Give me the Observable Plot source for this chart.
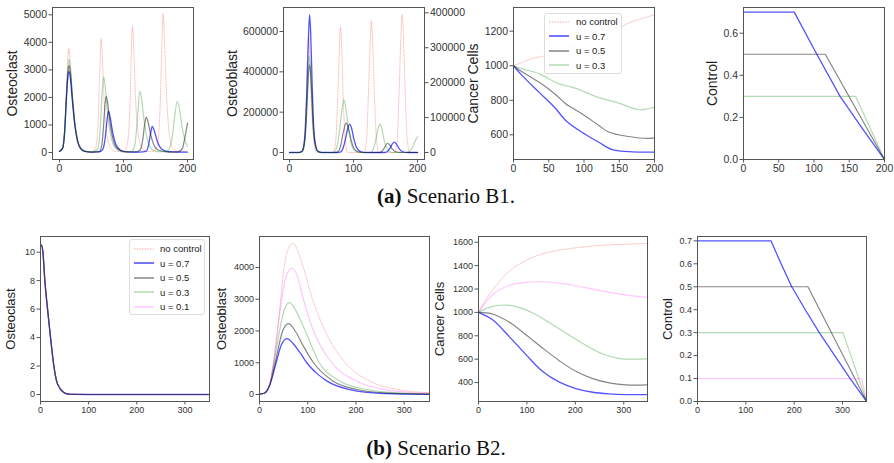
<!DOCTYPE html>
<html><head><meta charset="utf-8">
<script src="https://cdn.jsdelivr.net/npm/d3@7"></script>
<script src="https://cdn.jsdelivr.net/npm/@observablehq/plot@0.6"></script>
<style>
body{margin:0;background:#fff}
#root{position:relative;width:894px;height:463px;overflow:hidden;background:#fff;font-family:"Liberation Sans",Arial,sans-serif}
.legend{position:absolute;border:1px solid #ddd;border-radius:3px;background:rgba(255,255,255,0.85);box-sizing:border-box;color:#222}
.legend .row{position:absolute;white-space:nowrap}
.cap{position:absolute;font-family:"Liberation Serif",serif;font-size:21px;line-height:20px;color:#111;white-space:nowrap;transform:translateX(-50%)}
</style></head><body><div id="root"></div><script>
// ---------- series names ----------
const seriesA = ["no control", "u = 0.7", "u = 0.5", "u = 0.3"];
const seriesB = ["no control", "u = 0.7", "u = 0.5", "u = 0.3", "u = 0.1"];

// ---------- Scenario B1 : Osteoclast ----------
const oc1_none = [[0,40],[5,180],[8,850],[11,2400],[13,3400],[14.6,3770],[16,3500],[19,2400],[23,1100],[27,450],[32,130],[40,30],[50,20],[56,150],[60,900],[63,3000],[65,4130],[67,3400],[70,1800],[74,700],[79,200],[87,40],[100,25],[106,300],[110,1700],[112.5,3700],[114,4580],[116,3800],[119,1900],[123,700],[128,200],[136,40],[148,50],[154,400],[158,2200],[160.5,4300],[162,5040],[164,4100],[167,2200],[171,800],[176,200],[185,40],[200,30]];
const oc1_u07 = [[0,40],[5,150],[8,700],[11,2000],[13,2700],[15,2950],[17,2700],[20,1900],[24,1000],[28,450],[33,150],[40,40],[50,15],[62,20],[67,90],[71,450],[74,1100],[76.5,1500],[79,1300],[83,750],[88,300],[95,90],[105,25],[125,15],[135,40],[139,250],[142,650],[145,950],[148,800],[153,400],[160,120],[170,30],[185,15],[200,15]];
const oc1_u05 = [[0,40],[5,160],[8,750],[11,2100],[13,2850],[15,3160],[17,2900],[20,2050],[24,1050],[28,450],[33,150],[40,40],[50,15],[62,30],[66,250],[69,1000],[71,1700],[73,2040],[75,1850],[78,1250],[82,650],[87,250],[95,70],[105,20],[120,20],[126,90],[130,450],[133,1000],[135.5,1285],[138,1150],[142,700],[147,300],[155,80],[170,15],[185,20],[192,150],[196,550],[200,1070]];
const oc1_u03 = [[0,40],[5,170],[8,800],[11,2200],[13,3050],[15,3380],[17,3100],[20,2200],[24,1100],[28,480],[33,160],[40,40],[52,20],[60,150],[64,1000],[67,2300],[69,2760],[71,2500],[74,1700],[78,900],[83,350],[90,100],[100,25],[112,30],[118,300],[122,1300],[125.5,2230],[128,2000],[132,1200],[137,500],[143,150],[152,30],[168,40],[175,400],[180,1300],[184,1870],[187,1650],[191,1000],[196,450],[200,220]];

// ---------- Scenario B1 : Osteoblast (no control read on the right axis) ----------
const ob1_none_right = [[0,0],[18,0],[22,20000],[26,150000],[28.5,290000],[30,330000],[31.5,290000],[34,150000],[38,30000],[42,0],[68,0],[72,30000],[75,140000],[78,300000],[79.7,359000],[81.5,300000],[84,150000],[87,40000],[91,0],[116,0],[120,30000],[123,150000],[126,310000],[128,376000],[130,310000],[133,150000],[136,35000],[140,0],[164,0],[168,30000],[171,160000],[174,330000],[176,395000],[178,330000],[181,160000],[184,35000],[188,0],[200,0]];
const ob1_u07 = [[0,0],[15,0],[20,8000],[24,80000],[27,300000],[29.5,560000],[31.3,684000],[33,600000],[35,380000],[37,180000],[40,50000],[44,8000],[50,0],[75,0],[80,3000],[84,25000],[88,75000],[91,120000],[93.8,139000],[97,120000],[100,75000],[104,30000],[110,6000],[120,0],[148,0],[153,5000],[157,22000],[161,44000],[164,51000],[167,42000],[171,20000],[176,5000],[185,0],[200,0]];
const ob1_u05 = [[0,0],[15,0],[20,6000],[24,60000],[27,210000],[29.5,380000],[31,435000],[33,390000],[35,260000],[37,130000],[40,40000],[44,6000],[50,0],[72,0],[76,5000],[80,35000],[84,100000],[88.5,147000],[92,120000],[96,65000],[100,25000],[106,5000],[115,0],[140,0],[144,5000],[148,22000],[153,46000],[157,35000],[161,15000],[166,3000],[175,0],[200,0]];
const ob1_u03 = [[0,0],[15,0],[20,7000],[24,70000],[27,240000],[29.5,430000],[30.5,480000],[32.5,430000],[35,280000],[37,140000],[40,40000],[44,6000],[50,0],[68,0],[72,10000],[76,60000],[80,160000],[83,235000],[85,261000],[87,240000],[90,170000],[94,80000],[99,20000],[106,2000],[115,0],[126,0],[130,10000],[134,50000],[138,115000],[141,142000],[144,120000],[148,60000],[153,15000],[160,0],[182,0],[187,5000],[192,25000],[196,55000],[200,79000]];

// ---------- Scenario B1 : Cancer cells ----------
const cc1_none = [[0,1000],[10,1015],[25,1040],[50,1062],[65,1080],[80,1110],[100,1140],[115,1165],[130,1190],[150,1220],[165,1250],[180,1270],[200,1295]];
const cc1_u07 = [[0,1000],[12,944],[36,847],[60,751],[74,683],[97,615],[121,557],[140,514],[163,503],[200,500]];
const cc1_u05 = [[0,1000],[12,965],[36,905],[60,832],[74,780],[97,722],[121,654],[135,616],[163,590],[190,579],[200,583]];
const cc1_u03 = [[0,1000],[12,983],[36,954],[64,896],[83,876],[102,847],[121,815],[145,789],[178,745],[190,751],[200,760]];

// ---------- Scenario B1 : Control ----------
const ct1_u07 = [[0,0.7],[72,0.7],[104,0.5],[137,0.3],[168,0.15],[200,0]];
const ct1_u05 = [[0,0.5],[116,0.5],[200,0]];
const ct1_u03 = [[0,0.3],[159,0.3],[200,0]];

// ---------- Scenario B2 : Osteoclast ----------
const oc2_none = [[0,10.4],[2,10.55],[5,10.1],[9,8.3],[15,6.1],[21,4.1],[28,2.1],[33,1.1],[40,0.5],[48,0.17],[55,0.06],[70,0.01],[100,0],[351,0]];
const oc2_ctrl = [[0,10.4],[2,10.5],[5,10.0],[9,8.0],[14.6,6.0],[20.8,4.0],[27.8,2.0],[33,1.0],[40,0.45],[48,0.15],[55,0.05],[70,0.01],[100,0],[351,0]];

// ---------- Scenario B2 : Osteoblast ----------
const ob2_none = [[0,15],[10,40],[21,316],[29,1000],[37,2000],[44,3000],[51,4000],[60,4600],[69,4768],[80,4500],[91,4000],[110,3000],[136,2000],[178,1000],[229,420],[285,160],[320,90],[352,55]];
const ob2_u07 = [[0,15],[10,40],[21,280],[34.5,1000],[45,1550],[57,1758],[70,1600],[85,1300],[98,1000],[120,650],[140,421],[185,158],[236,50],[300,12],[352,5]];
const ob2_u05 = [[0,15],[10,40],[21,290],[32.5,1000],[48,2000],[60,2232],[74,2000],[90,1550],[112,1000],[153,420],[202,158],[260,50],[352,10]];
const ob2_u03 = [[0,15],[10,40],[21,300],[30,1000],[41.5,2000],[50,2600],[62,2895],[75,2650],[95,2000],[124,1000],[167,420],[222,158],[280,60],[352,20]];
const ob2_u01 = [[0,15],[10,40],[21,310],[29,990],[37,1950],[46,3000],[55,3700],[67,3980],[78,3750],[91,3000],[112,2000],[150,1000],[202,420],[257,160],[300,80],[352,45]];

// ---------- Scenario B2 : Cancer cells ----------
const cc2_none = [[0,1000],[10,1075],[29,1190],[63,1350],[98,1445],[132,1500],[167,1532],[201,1552],[236,1567],[270,1577],[305,1583],[349,1589]];
const cc2_u07 = [[0,1000],[29,937],[63,795],[98,639],[132,496],[167,403],[201,349],[236,317],[270,303],[305,297],[349,297]];
const cc2_u05 = [[0,1000],[29,986],[63,917],[98,809],[132,696],[167,587],[201,496],[236,434],[270,397],[305,380],[349,380]];
const cc2_u03 = [[0,1000],[22,1043],[56.5,1063],[84,1043],[119,980],[153,895],[188,804],[222,718],[257,644],[291,605],[326,600],[349,603]];
const cc2_u01 = [[0,1000],[29,1151],[63,1230],[98,1256],[132,1262],[167,1250],[201,1228],[236,1199],[270,1171],[305,1148],[349,1128]];

// ---------- Scenario B2 : Control ----------
const ct2_u07 = [[0,0.7],[152,0.7],[173,0.6],[195,0.5],[223,0.4],[252,0.3],[284,0.2],[316,0.1],[350,0]];
const ct2_u05 = [[0,0.5],[228.5,0.5],[350,0]];
const ct2_u03 = [[0,0.3],[301,0.3],[350,0]];
const ct2_u01 = [[0,0.1],[340,0.1],[350,0]];

// ---------- tick labels ----------
const ticks200 = [0, 100, 200];
const ticks200by50 = [0, 50, 100, 150, 200];
const ticks300 = [0, 100, 200, 300];
const oc1Ticks = [0, 1000, 2000, 3000, 4000, 5000];
const ob1Ticks = [0, 200000, 400000, 600000];
const ob1RightTicks = [0, 100000, 200000, 300000, 400000];
const cc1Ticks = [600, 800, 1000, 1200];
const ct1Ticks = [0, 0.2, 0.4, 0.6];
const oc2Ticks = [0, 2, 4, 6, 8, 10];
const ob2Ticks = [0, 1000, 2000, 3000, 4000];
const cc2Ticks = [400, 600, 800, 1000, 1200, 1400, 1600];
const ct2Ticks = [0, 0.1, 0.2, 0.3, 0.4, 0.5, 0.6, 0.7];

// ---------- styles ----------
const STY = {
  "no control": {color: "rgba(255,0,0,0.24)", width: 1, dash: "1.5,1.2"},
  "u = 0.7": {color: "rgba(0,0,255,0.68)", width: 1.3},
  "u = 0.5": {color: "rgba(0,0,0,0.48)", width: 1.2},
  "u = 0.3": {color: "rgba(0,128,0,0.3)", width: 1.2},
  "u = 0.1": {color: "rgba(255,0,255,0.22)", width: 1.2}
};
// ratio between right-axis and left-axis units in the B1 osteoblast panel
const ob1LeftPerRight = 692600 / 400000;

const root = document.getElementById("root");
const fmtInt = d3.format("d");
const fmt1 = d3.format(".1f");
const FONT = "'Liberation Sans', Arial, sans-serif";

function panel(o) {
  const [fx0, fy0, fx1, fy1] = o.frame;
  const marks = [];
  o.series.forEach(([name, data, k]) => {
    const st = STY[name];
    marks.push(Plot.line(data, {x: d => d[0], y: d => d[1] * (k || 1), stroke: st.color, strokeWidth: st.width,
      strokeDasharray: st.dash, curve: o.curve || "monotone-x", clip: true}));
  });
  marks.push(Plot.frame({stroke: "#555", strokeWidth: 1}));
  marks.push(Plot.axisX(o.xTicks, {tickSize: 3.5, tickPadding: 2, label: null, stroke: "#555", fill: "#333", tickFormat: fmtInt}));
  marks.push(Plot.axisY(o.yTicks, {tickSize: 3.5, tickPadding: 2, label: null, stroke: "#555", fill: "#333", tickFormat: o.yFmt || fmtInt}));
  if (o.extra) marks.push(...o.extra);
  marks.push(Plot.text([o.label], {frameAnchor: "left", rotate: -90, dx: -(fx0 - o.labelX), text: d => d,
    textAnchor: "middle", lineAnchor: "middle", fontSize: o.labelSize, fill: "#222"}));
  const svg = Plot.plot({
    width: o.w, height: o.h,
    marginLeft: fx0 - o.left, marginRight: o.left + o.w - fx1,
    marginTop: fy0 - o.top, marginBottom: o.top + o.h - fy1,
    x: {domain: o.xDomain}, y: {domain: o.yDomain},
    style: {fontFamily: FONT, fontSize: o.fs + "px", background: "transparent", overflow: "visible"},
    marks
  });
  svg.style.position = "absolute";
  svg.style.left = o.left + "px";
  svg.style.top = o.top + "px";
  root.appendChild(svg);
}

function legend(names, o) {
  const div = document.createElement("div");
  div.className = "legend";
  Object.assign(div.style, {left: o.left + "px", top: o.top + "px", width: o.w + "px", height: o.h + "px", fontSize: o.fs + "px"});
  names.forEach((n, i) => {
    const st = STY[n];
    const cy = o.row0 + i * o.step;
    const ns = "http://www.w3.org/2000/svg";
    const s = document.createElementNS(ns, "svg");
    s.setAttribute("width", 24); s.setAttribute("height", 6);
    s.style.position = "absolute"; s.style.left = "2px"; s.style.top = (cy - 3) + "px";
    const l = document.createElementNS(ns, "line");
    l.setAttribute("x1", o.lx0 - 2); l.setAttribute("x2", o.lx1 - 2); l.setAttribute("y1", 3); l.setAttribute("y2", 3);
    l.setAttribute("stroke", st.color); l.setAttribute("stroke-width", st.width + 0.3);
    if (st.dash) l.setAttribute("stroke-dasharray", st.dash);
    s.appendChild(l); div.appendChild(s);
    const t = document.createElement("div");
    t.className = "row"; t.textContent = n;
    t.style.left = o.tx + "px"; t.style.top = (cy - o.fs * 0.6) + "px"; t.style.lineHeight = (o.fs * 1.2) + "px";
    div.appendChild(t);
  });
  root.appendChild(div);
}

// ---------- Row (a) ----------
panel({left: 0, top: 0, w: 215, h: 180, frame: [52, 7, 193, 159], xDomain: [-10.9, 209.4], yDomain: [-254, 5265],
  xTicks: ticks200, yTicks: oc1Ticks, fs: 10.5, label: "Osteoclast", labelX: 12, labelSize: 14,
  series: [["no control", oc1_none], ["u = 0.7", oc1_u07], ["u = 0.5", oc1_u05], ["u = 0.3", oc1_u03]]});

panel({left: 215, top: 0, w: 265, h: 180, frame: [283, 7, 424, 159], xDomain: [-9.4, 210.9], yDomain: [-34700, 719000],
  xTicks: ticks200, yTicks: ob1Ticks, fs: 10.5, label: "Osteoblast", labelX: 232, labelSize: 14,
  extra: [Plot.axisY(ob1RightTicks.map(v => v * ob1LeftPerRight), {anchor: "right", tickSize: 3.5, tickPadding: 2, label: null,
    stroke: "#555", fill: "#333", tickFormat: d => fmtInt(Math.round(d / ob1LeftPerRight))})],
  series: [["no control", ob1_none_right, ob1LeftPerRight], ["u = 0.7", ob1_u07], ["u = 0.5", ob1_u05], ["u = 0.3", ob1_u03]]});

panel({left: 455, top: 0, w: 215, h: 180, frame: [513, 7, 654, 159], xDomain: [0, 200], yDomain: [457, 1337],
  xTicks: ticks200by50, yTicks: cc1Ticks, fs: 10.5, label: "Cancer Cells", labelX: 473, labelSize: 14, curve: "catmull-rom",
  series: [["no control", cc1_none], ["u = 0.7", cc1_u07], ["u = 0.5", cc1_u05], ["u = 0.3", cc1_u03]]});

panel({left: 690, top: 0, w: 204, h: 180, frame: [743, 7, 884, 159], xDomain: [0, 200], yDomain: [0, 0.722],
  xTicks: ticks200by50, yTicks: ct1Ticks, yFmt: fmt1, fs: 10.5, label: "Control", labelX: 712, labelSize: 14, curve: "linear",
  series: [["u = 0.7", ct1_u07], ["u = 0.5", ct1_u05], ["u = 0.3", ct1_u03]]});

legend(seriesA, {left: 544, top: 13, w: 78, h: 61, fs: 9.5, row0: 7.7, step: 14.5, lx0: 4, lx1: 24, tx: 31});

// ---------- Row (b) ----------
panel({left: 0, top: 215, w: 220, h: 210, frame: [40, 236, 209, 401], xDomain: [0, 351], yDomain: [-0.49, 11.1],
  xTicks: ticks300, yTicks: oc2Ticks, fs: 9, label: "Osteoclast", labelX: 10, labelSize: 13,
  series: [["no control", oc2_none], ["u = 0.7", oc2_ctrl], ["u = 0.5", oc2_ctrl], ["u = 0.3", oc2_ctrl], ["u = 0.1", oc2_ctrl]]});

panel({left: 215, top: 215, w: 220, h: 210, frame: [259, 236, 429, 401], xDomain: [0, 352.5], yDomain: [-220, 4976],
  xTicks: ticks300, yTicks: ob2Ticks, fs: 9, label: "Osteoblast", labelX: 221, labelSize: 13, curve: "monotone-x",
  series: [["no control", ob2_none], ["u = 0.7", ob2_u07], ["u = 0.5", ob2_u05], ["u = 0.3", ob2_u03], ["u = 0.1", ob2_u01]]});

panel({left: 430, top: 215, w: 225, h: 210, frame: [478, 236, 647, 401], xDomain: [0, 349], yDomain: [238, 1649],
  xTicks: ticks300, yTicks: cc2Ticks, fs: 9, label: "Cancer Cells", labelX: 439, labelSize: 13, curve: "catmull-rom",
  series: [["no control", cc2_none], ["u = 0.7", cc2_u07], ["u = 0.5", cc2_u05], ["u = 0.3", cc2_u03], ["u = 0.1", cc2_u01]]});

panel({left: 650, top: 215, w: 244, h: 210, frame: [697, 236, 866, 401], xDomain: [0, 349.7], yDomain: [0, 0.719],
  xTicks: ticks300, yTicks: ct2Ticks, yFmt: fmt1, fs: 9, label: "Control", labelX: 667, labelSize: 13, curve: "linear",
  series: [["u = 0.7", ct2_u07], ["u = 0.5", ct2_u05], ["u = 0.3", ct2_u03], ["u = 0.1", ct2_u01]]});

legend(seriesB, {left: 129, top: 239, w: 76, h: 76, fs: 9.5, row0: 9, step: 14.4, lx0: 4, lx1: 24, tx: 30});

// ---------- captions ----------
function caption(html, cx, top) {
  const d = document.createElement("div");
  d.className = "cap"; d.innerHTML = html;
  d.style.left = cx + "px"; d.style.top = top + "px";
  root.appendChild(d);
}
caption("<b>(a)</b> Scenario B1.", 446, 186);
caption("<b>(b)</b> Scenario B2.", 436, 438);
</script></body></html>
